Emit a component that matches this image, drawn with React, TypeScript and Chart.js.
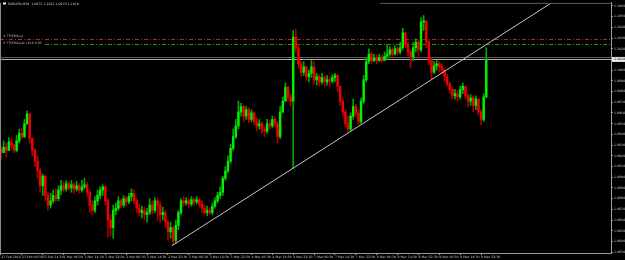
import React, { useEffect, useRef } from 'react';
import { Chart, registerables } from 'chart.js';

Chart.register(...registerables);

const titleText = 'EURUSD,M30  1.0975 1.1021 1.0974 1.1010';
const firstOpen = 1.0926;

const closes = [
  1.0923, 1.0928, 1.0925, 1.0933, 1.0930, 1.0925, 1.0934, 1.0941, 1.0938, 1.0950,
  1.0959, 1.0936, 1.0925, 1.0915, 1.0906, 1.0892, 1.0901, 1.0883, 1.0874, 1.0878,
  1.0883, 1.0880, 1.0888, 1.0892, 1.0889, 1.0894, 1.0890, 1.0893, 1.0889, 1.0892,
  1.0888, 1.0891, 1.0893, 1.0886, 1.0874, 1.0869, 1.0878, 1.0883, 1.0888, 1.0891,
  1.0878, 1.0860, 1.0853, 1.0869, 1.0871, 1.0878, 1.0874, 1.0880, 1.0877, 1.0882,
  1.0885, 1.0878, 1.0871, 1.0867, 1.0869, 1.0865, 1.0867, 1.0874, 1.0869, 1.0878,
  1.0874, 1.0865, 1.0867, 1.0858, 1.0849, 1.0853, 1.0841, 1.0855, 1.0867, 1.0878,
  1.0876, 1.0878, 1.0875, 1.0879, 1.0877, 1.0879, 1.0875, 1.0871, 1.0867, 1.0869,
  1.0867, 1.0873, 1.0878, 1.0883, 1.0886, 1.0899, 1.0906, 1.0915, 1.0927, 1.0938,
  1.0948, 1.0961, 1.0966, 1.0957, 1.0963, 1.0954, 1.0960, 1.0952, 1.0948, 1.0950,
  1.0945, 1.0943, 1.0950, 1.0948, 1.0954, 1.0950, 1.0938, 1.0961, 1.0971, 1.0984,
  1.0975, 1.0971, 1.1031, 1.1021, 1.1006, 1.0998, 1.1003, 1.0994, 1.0997, 1.1003,
  1.0991, 1.0994, 1.0989, 1.0993, 1.0989, 1.0991, 1.0990, 1.0993, 1.0995, 1.0985,
  1.0971, 1.0961, 1.0950, 1.0945, 1.0957, 1.0966, 1.0960, 1.0952, 1.0971, 1.0991,
  1.1008, 1.1015, 1.1009, 1.1011, 1.1009, 1.1012, 1.1009, 1.1013, 1.1015, 1.1019,
  1.1015, 1.1020, 1.1017, 1.1021, 1.1035, 1.1024, 1.1017, 1.1012, 1.1021, 1.1026,
  1.1019, 1.1045, 1.1046, 1.1026, 1.1009, 1.0998, 1.1004, 1.1006, 1.1003, 1.1000,
  1.0994, 1.0987, 1.0982, 1.0976, 1.0978, 1.0975, 1.0982, 1.0985, 1.0976, 1.0971,
  1.0974, 1.0967, 1.0973, 1.0961, 1.0954, 1.0975, 1.1010,
];

const highs = [
  1.0929, 1.0934, 1.0932, 1.0937, 1.0936, 1.0931, 1.0939, 1.0945, 1.0946, 1.0954,
  1.0962, 1.0960, 1.0937, 1.0927, 1.0920, 1.0908, 1.0903, 1.0902, 1.0886, 1.0885,
  1.0888, 1.0889, 1.0892, 1.0897, 1.0896, 1.0897, 1.0896, 1.0897, 1.0895, 1.0896,
  1.0894, 1.0897, 1.0899, 1.0895, 1.0888, 1.0878, 1.0882, 1.0888, 1.0891, 1.0893,
  1.0892, 1.0880, 1.0865, 1.0874, 1.0876, 1.0882, 1.0880, 1.0883, 1.0882, 1.0885,
  1.0889, 1.0888, 1.0880, 1.0875, 1.0873, 1.0872, 1.0871, 1.0880, 1.0878, 1.0881,
  1.0880, 1.0877, 1.0872, 1.0869, 1.0860, 1.0858, 1.0854, 1.0860, 1.0869, 1.0880,
  1.0882, 1.0881, 1.0880, 1.0882, 1.0881, 1.0882, 1.0880, 1.0878, 1.0874, 1.0873,
  1.0872, 1.0876, 1.0881, 1.0886, 1.0891, 1.0901, 1.0910, 1.0920, 1.0931, 1.0945,
  1.0954, 1.0971, 1.0969, 1.0967, 1.0966, 1.0965, 1.0963, 1.0961, 1.0955, 1.0954,
  1.0952, 1.0948, 1.0954, 1.0953, 1.0957, 1.0956, 1.0952, 1.0966, 1.0975, 1.0988,
  1.0985, 1.0978, 1.1037, 1.1038, 1.1024, 1.1009, 1.1008, 1.1004, 1.1000, 1.1009,
  1.1008, 1.0997, 1.0996, 1.0997, 1.0995, 1.0995, 1.0994, 1.0996, 1.0997, 1.0996,
  1.0985, 1.0973, 1.0963, 1.0957, 1.0960, 1.0973, 1.0968, 1.0963, 1.0974, 1.0995,
  1.1012, 1.1020, 1.1017, 1.1015, 1.1014, 1.1015, 1.1014, 1.1017, 1.1024, 1.1022,
  1.1021, 1.1023, 1.1022, 1.1026, 1.1039, 1.1035, 1.1026, 1.1019, 1.1026, 1.1029,
  1.1028, 1.1049, 1.1051, 1.1046, 1.1028, 1.1011, 1.1008, 1.1009, 1.1008, 1.1006,
  1.1002, 1.0996, 1.0989, 1.0984, 1.0982, 1.0981, 1.0985, 1.0988, 1.0985, 1.0978,
  1.0977, 1.0976, 1.0976, 1.0973, 1.0963, 1.0978, 1.1021,
];

const lows = [
  1.0917, 1.0923, 1.0919, 1.0925, 1.0926, 1.0923, 1.0924, 1.0932, 1.0936, 1.0937,
  1.0949, 1.0932, 1.0920, 1.0910, 1.0899, 1.0886, 1.0883, 1.0878, 1.0869, 1.0871,
  1.0876, 1.0877, 1.0878, 1.0884, 1.0886, 1.0887, 1.0888, 1.0886, 1.0885, 1.0887,
  1.0885, 1.0886, 1.0889, 1.0882, 1.0867, 1.0865, 1.0867, 1.0874, 1.0880, 1.0883,
  1.0874, 1.0844, 1.0845, 1.0843, 1.0865, 1.0869, 1.0871, 1.0872, 1.0873, 1.0875,
  1.0878, 1.0875, 1.0867, 1.0864, 1.0862, 1.0860, 1.0858, 1.0865, 1.0866, 1.0867,
  1.0860, 1.0858, 1.0860, 1.0853, 1.0841, 1.0843, 1.0837, 1.0838, 1.0851, 1.0865,
  1.0873, 1.0874, 1.0872, 1.0873, 1.0874, 1.0875, 1.0872, 1.0867, 1.0865, 1.0864,
  1.0865, 1.0865, 1.0871, 1.0876, 1.0880, 1.0883, 1.0897, 1.0904, 1.0913, 1.0925,
  1.0936, 1.0945, 1.0957, 1.0952, 1.0954, 1.0951, 1.0952, 1.0949, 1.0943, 1.0945,
  1.0941, 1.0938, 1.0941, 1.0945, 1.0946, 1.0947, 1.0932, 1.0936, 1.0960, 1.0971,
  1.0971, 1.0966, 1.0908, 1.1017, 1.1002, 1.0994, 1.0995, 1.0990, 1.0989, 1.0993,
  1.0987, 1.0986, 1.0985, 1.0987, 1.0985, 1.0986, 1.0985, 1.0988, 1.0989, 1.0980,
  1.0967, 1.0957, 1.0947, 1.0942, 1.0943, 1.0954, 1.0956, 1.0949, 1.0950, 1.0969,
  1.0989, 1.1006, 1.1006, 1.1008, 1.1006, 1.1008, 1.1007, 1.1009, 1.1010, 1.1013,
  1.1012, 1.1014, 1.1014, 1.1015, 1.1019, 1.1021, 1.1013, 1.1002, 1.1009, 1.1017,
  1.1011, 1.1017, 1.1037, 1.1021, 1.1005, 1.0992, 1.0997, 1.1000, 1.0998, 1.0997,
  1.0989, 1.0985, 1.0978, 1.0973, 1.0973, 1.0971, 1.0973, 1.0978, 1.0973, 1.0966,
  1.0967, 1.0961, 1.0963, 1.0958, 1.0949, 1.0952, 1.0974,
];

const timeLabels = [
  '21 Feb 2016', '23 Feb 06:30', '23 Feb 14:30', '1 Mar 06:30', '1 Mar 14:30', '1 Mar 22:30',
  '2 Mar 06:30', '2 Mar 14:30', '2 Mar 22:30', '3 Mar 06:30', '3 Mar 14:30', '3 Mar 22:30',
  '4 Mar 06:30', '4 Mar 14:30', '4 Mar 22:30', '7 Mar 06:30', '7 Mar 14:30', '7 Mar 22:30',
  '8 Mar 06:30', '8 Mar 14:30', '8 Mar 22:30', '9 Mar 06:30', '9 Mar 14:30', '9 Mar 22:30',
];
const barsPerTimeLabel = 8;

const priceTicks = [
  1.1060, 1.1050, 1.1040, 1.1030, 1.1020, 1.1010, 1.1000, 1.0990, 1.0980, 1.0970, 1.0960, 1.0950,
  1.0940, 1.0930, 1.0920, 1.0910, 1.0900, 1.0890, 1.0880, 1.0870, 1.0860, 1.0850, 1.0840, 1.0830,
];

const bidPrice = 1.1010;
const askPrice = 1.1012;
const levelRed = 1.1029;
const levelGreen = 1.1024;
const levelRedLabel = '# TP(EMA)-p';
const levelGreenLabel = '# TP(EMA)set Limit 0.85';
const trendBars = [65.5, 213];
const trendPrices = [1.0836, 1.1066];

const FONT = '"DejaVu Sans", sans-serif';
const SMALL = 3.2;

export default function App() {
  const ref = useRef<HTMLCanvasElement>(null);

  useEffect(() => {
    document.body.style.margin = '0';
    document.body.style.background = '#000';
    const canvas = ref.current;
    if (!canvas) return;

    const opens = closes.map((c, i) => (i === 0 ? firstOpen : closes[i - 1]));
    const up = closes.map((c, i) => c >= opens[i]);
    const bodies = closes.map((c, i) => ({ x: i, y: [opens[i], c] }));
    const wicks = closes.map((c, i) => ({
      x: i,
      y: [Math.min(lows[i], opens[i], c), Math.max(highs[i], opens[i], c)],
    }));
    const trend = trendBars.map((b, i) => ({ x: b, y: trendPrices[i] }));

    const mtPlugin = {
      id: 'mtPlugin',
      beforeDraw(chart: any) {
        const ctx = chart.ctx;
        ctx.save();
        ctx.fillStyle = '#000';
        ctx.fillRect(0, 0, chart.width, chart.height);
        ctx.restore();
      },
      beforeDatasetsDraw(chart: any) {
        const { ctx, chartArea: a, scales } = chart;
        const y = scales.y;
        ctx.save();
        const hline = (p: number, color: string, dash: number[]) => {
          const py = Math.round(y.getPixelForValue(p)) + 0.5;
          ctx.strokeStyle = color;
          ctx.lineWidth = 1;
          ctx.setLineDash(dash);
          ctx.beginPath();
          ctx.moveTo(a.left, py);
          ctx.lineTo(a.right, py);
          ctx.stroke();
          return py;
        };
        const pr = hline(levelRed, '#c81e1e', [4, 2, 1, 2]);
        const pg = hline(levelGreen, '#14a014', [4, 2, 1, 2]);
        ctx.setLineDash([]);
        hline(askPrice, '#5e5e5e', []);
        hline(bidPrice, '#b0b0b0', []);
        ctx.font = `${SMALL}px ${FONT}`;
        ctx.textBaseline = 'bottom';
        ctx.textAlign = 'left';
        const w2 = ctx.measureText(levelGreenLabel).width;
        ctx.fillStyle = '#000';
        ctx.fillRect(a.left + 1, pg - 3, w2 + 4, 4);
        ctx.fillStyle = '#b8b8b8';
        ctx.fillText(levelRedLabel, a.left + 3, pr - 1.5);
        ctx.fillText(levelGreenLabel, a.left + 3, pg + 0.5);
        ctx.restore();
      },
      afterDraw(chart: any) {
        const { ctx, chartArea: a, scales } = chart;
        const y = scales.y;
        ctx.save();
        ctx.strokeStyle = '#8a8a8a';
        ctx.lineWidth = 1;
        ctx.beginPath();
        ctx.moveTo(a.left + 0.5, a.top);
        ctx.lineTo(a.left + 0.5, a.bottom);
        ctx.stroke();
        ctx.strokeStyle = '#5a5a5a';
        ctx.beginPath();
        ctx.moveTo(380, a.top + 0.5);
        ctx.lineTo(a.right, a.top + 0.5);
        ctx.stroke();
        // title
        ctx.fillStyle = '#e8e8e8';
        ctx.fillRect(3, 2.5, 3, 2);
        ctx.font = `${SMALL}px ${FONT}`;
        ctx.textBaseline = 'middle';
        ctx.textAlign = 'left';
        ctx.fillStyle = '#cfcfcf';
        ctx.fillText(titleText, 8, 3.8);
        // current price box
        const py = y.getPixelForValue(bidPrice);
        ctx.fillStyle = '#e6e6e6';
        ctx.fillRect(a.right + 1, py - 2.5, chart.width - a.right - 1, 5);
        ctx.fillStyle = '#000';
        ctx.fillText(bidPrice.toFixed(4), a.right + 3, py + 0.2);
        ctx.restore();
      },
    };

    const chart = new Chart(canvas, {
      type: 'bar',
      data: {
        datasets: [
          {
            type: 'line',
            data: trend,
            borderColor: '#c4c4c4',
            borderWidth: 1,
            pointRadius: 0,
            order: 0,
          } as any,
          {
            data: bodies,
            backgroundColor: up.map((u) => (u ? '#00f000' : '#f00000')),
            barThickness: 1.8,
            grouped: false,
            order: 1,
          } as any,
          {
            data: wicks,
            backgroundColor: up.map((u) => (u ? '#00a800' : '#a80000')),
            barThickness: 1,
            grouped: false,
            order: 2,
          } as any,
        ],
      },
      plugins: [mtPlugin],
      options: {
        animation: false,
        responsive: false,
        devicePixelRatio: 1,
        events: [],
        layout: { padding: 0 },
        plugins: { legend: { display: false }, tooltip: { enabled: false } },
        scales: {
          x: {
            type: 'linear',
            min: -0.383,
            max: 233.8,
            offset: false,
            grid: {
              offset: false,
              drawOnChartArea: false,
              drawTicks: true,
              tickLength: 2,
              color: '#9a9a9a',
            },
            border: { display: true, color: '#9a9a9a' },
            ticks: {
              autoSkip: false,
              maxRotation: 0,
              minRotation: 0,
              align: 'start',
              padding: 0,
              color: '#c4c4c4',
              font: { size: SMALL, family: FONT },
              callback: (_v: any, i: number) => timeLabels[i],
            },
            afterBuildTicks: (s: any) => {
              s.ticks = timeLabels.map((_, k) => ({ value: k * barsPerTimeLabel }));
            },
            afterFit: (s: any) => {
              s.height = 7;
            },
          },
          y: {
            type: 'linear',
            position: 'right',
            min: 1.082925,
            max: 1.106277,
            grid: {
              drawOnChartArea: false,
              drawTicks: true,
              tickLength: 2,
              color: '#9a9a9a',
            },
            border: { display: true, color: '#9a9a9a' },
            ticks: {
              autoSkip: false,
              padding: 1,
              color: '#c4c4c4',
              font: { size: SMALL, family: FONT },
              callback: (v: any) => Number(v).toFixed(4),
            },
            afterBuildTicks: (s: any) => {
              s.ticks = priceTicks.map((p) => ({ value: p }));
            },
            afterFit: (s: any) => {
              s.width = 14;
            },
          },
        },
      } as any,
    });

    return () => chart.destroy();
  }, []);

  return (
    <canvas
      ref={ref}
      width={625}
      height={260}
      style={{ display: 'block', width: 625, height: 260, background: '#000' }}
    />
  );
}
